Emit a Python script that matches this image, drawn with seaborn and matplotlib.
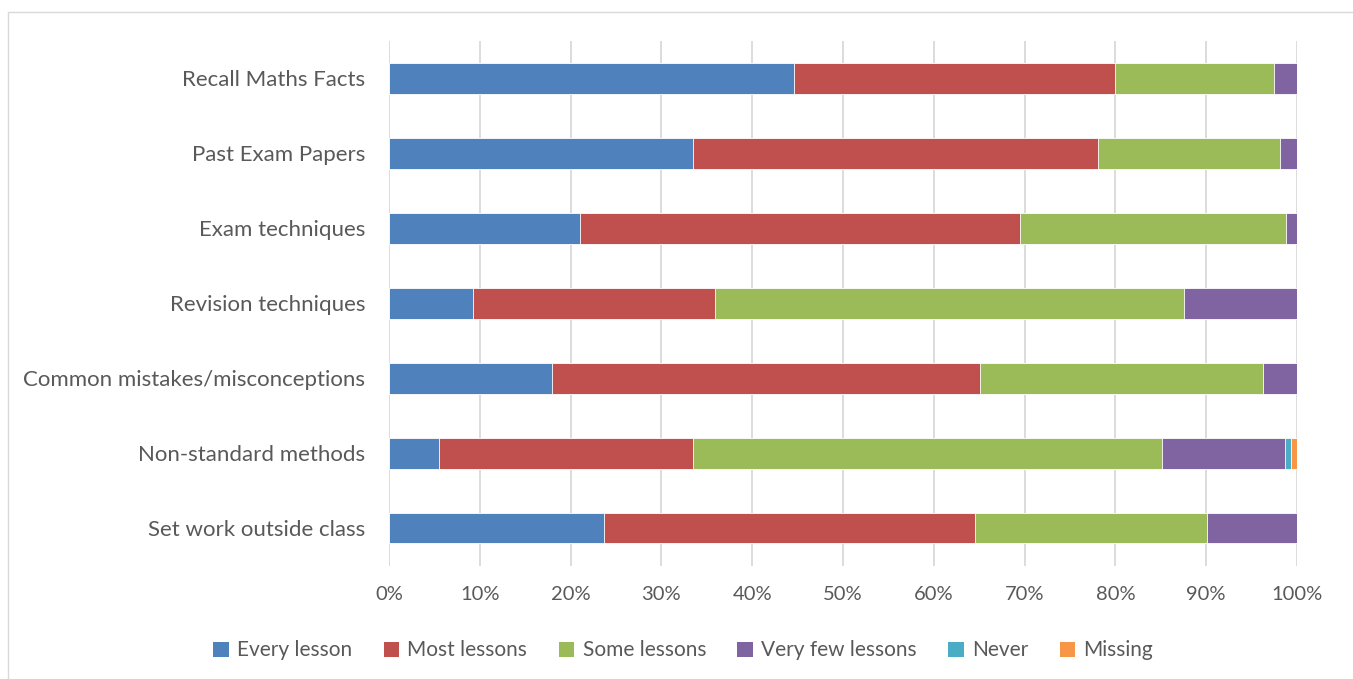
import numpy as np
import pandas as pd
import matplotlib
matplotlib.use("Agg")
import matplotlib.pyplot as plt
import seaborn as sns
from matplotlib.patches import Patch, Rectangle

categories = ["Recall Maths Facts", "Past Exam Papers", "Exam techniques",
              "Revision techniques", "Common mistakes/misconceptions",
              "Non-standard methods", "Set work outside class"]
series_names = ["Every lesson", "Most lessons", "Some lessons",
                "Very few lessons", "Never", "Missing"]
every_lesson = [44.6, 33.5, 21.0, 9.3, 17.9, 5.5, 23.7]
most_lessons = [35.4, 44.6, 48.5, 26.6, 47.2, 28.0, 40.8]
some_lessons = [17.5, 20.0, 29.3, 51.7, 31.2, 51.6, 25.6]
very_few_lessons = [2.5, 1.9, 1.2, 12.4, 3.7, 13.6, 9.9]
never = [0.0, 0.0, 0.0, 0.0, 0.0, 0.6, 0.0]
missing = [0.0, 0.0, 0.0, 0.0, 0.0, 0.7, 0.0]
x_ticks = [0, 10, 20, 30, 40, 50, 60, 70, 80, 90, 100]
colors = ["#4F81BD", "#C0504D", "#9BBB59", "#8064A2", "#4BACC6", "#F79646"]

sns.set_theme(style="white")
plt.rcParams["font.family"] = ["Lato", "DejaVu Sans"]

series = [every_lesson, most_lessons, some_lessons, very_few_lessons, never, missing]
cum = np.cumsum(np.array(series), axis=0)

fig = plt.figure(figsize=(13.53, 6.79), dpi=100)
ax = fig.add_axes([0.2875, 0.167, 0.9586 - 0.2875, 0.940 - 0.167])

for i in range(len(series) - 1, -1, -1):
    df = pd.DataFrame({"cat": categories, "val": cum[i]})
    sns.barplot(data=df, y="cat", x="val", order=categories, orient="h",
                color=colors[i], width=0.41, ax=ax, saturation=1,
                edgecolor="white", linewidth=0.6, zorder=3)

ax.set_xlim(0, 100)
ax.set_ylim(6.5, -0.5)
ax.set_xticks(x_ticks)
ax.set_xticklabels([f"{t}%" for t in x_ticks])
ax.set_xlabel("")
ax.set_ylabel("")
ax.grid(axis="x", color="#D9D9D9", linewidth=1.3, zorder=0)
ax.set_axisbelow(True)
for s in ax.spines.values():
    s.set_visible(False)
ax.tick_params(axis="both", length=0, colors="#595959")
ax.tick_params(axis="y", pad=17, labelsize=16)
ax.tick_params(axis="x", pad=15, labelsize=14.5)

handles = [Patch(facecolor=c, edgecolor="none") for c in colors]
fig.legend(handles, series_names, loc="center", bbox_to_anchor=(0.505, 0.042),
           ncol=6, frameon=False, fontsize=15, handlelength=0.75, handleheight=0.75,
           columnspacing=1.5, handletextpad=0.4, labelcolor="#595959")

fig.patches.append(Rectangle((0.006, -0.01), 1.0, 0.992, transform=fig.transFigure,
                             fill=False, edgecolor="#D9D9D9", linewidth=1.0))

fig.savefig("out.png", dpi=100, facecolor="white")
